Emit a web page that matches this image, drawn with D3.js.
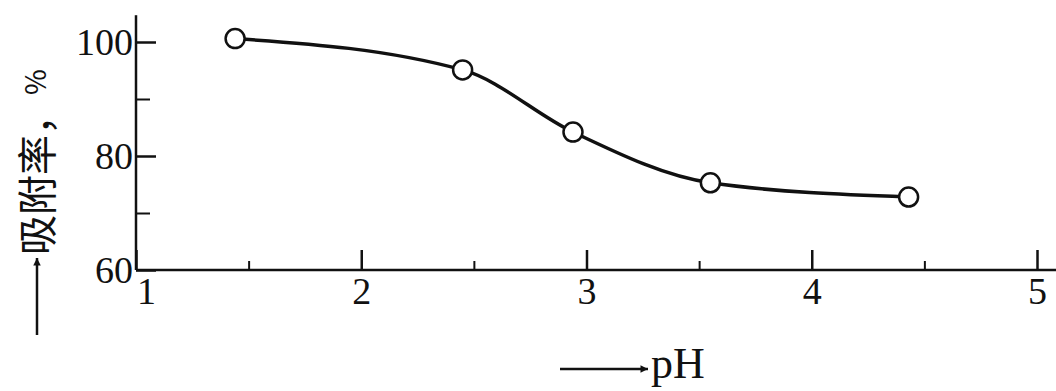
<!DOCTYPE html>
<html>
<head>
<meta charset="utf-8">
<script src="https://cdn.jsdelivr.net/npm/d3@7"></script>
<style>
  body { margin: 0; background: #fff; }
  svg { display: block; }
  .tick text { font-family: "Liberation Serif", "DejaVu Serif", serif; }
</style>
</head>
<body>
<svg id="chart" width="1056" height="391"></svg>
<script>
// pH vs adsorption rate
var phValues = [1.44, 2.45, 2.94, 3.55, 4.43];
var adsorption = [100.6, 95.1, 84.2, 75.3, 72.8];

var xTicks = [1, 2, 3, 4, 5];
var xMinorTicks = [1.5, 2.5, 3.5, 4.5];
var yTicks = [60, 80, 100];
var yMinorTicks = [70, 90];

var ink = "#111";
var svg = d3.select("#chart");

var x = d3.scaleLinear().domain([1, 5]).range([136, 1037]);
var y = d3.scaleLinear().domain([60, 100]).range([270, 42]);

// axis lines (drawn a bit longer than the data range, like the original)
svg.append("line")
    .attr("x1", x(1)).attr("x2", 1056)
    .attr("y1", y(60)).attr("y2", y(60))
    .attr("stroke", ink).attr("stroke-width", 2.5);
svg.append("line")
    .attr("x1", x(1)).attr("x2", x(1))
    .attr("y1", y(60)).attr("y2", y(104.7))
    .attr("stroke", ink).attr("stroke-width", 2.5);

// y axis: ticks point inwards, labels on the left
var yAxis = svg.append("g")
    .attr("transform", "translate(" + x(1) + ",0)")
    .call(d3.axisLeft(y).tickValues(yTicks).tickSizeInner(-20).tickSizeOuter(0).tickPadding(3));
yAxis.select(".domain").remove();
yAxis.selectAll(".tick line").attr("stroke", ink).attr("stroke-width", 2.5);
yAxis.selectAll(".tick text").attr("fill", ink).attr("font-size", 38);

var yMinor = svg.append("g")
    .attr("transform", "translate(" + x(1) + ",0)")
    .call(d3.axisLeft(y).tickValues(yMinorTicks).tickSizeInner(-14).tickSizeOuter(0).tickFormat(""));
yMinor.select(".domain").remove();
yMinor.selectAll(".tick line").attr("stroke", ink).attr("stroke-width", 2);

// x axis: ticks point up, labels below
var xAxis = svg.append("g")
    .attr("transform", "translate(0," + y(60) + ")")
    .call(d3.axisBottom(x).tickValues(xTicks).tickSizeInner(-20).tickSizeOuter(0).tickPadding(7).tickFormat(d3.format("d")));
xAxis.select(".domain").remove();
xAxis.selectAll(".tick line").attr("stroke", ink).attr("stroke-width", 2.5);
xAxis.selectAll(".tick text").attr("fill", ink).attr("font-size", 38)
    .attr("dx", function (d) { return d === 1 ? 10 : 0; });

var xMinor = svg.append("g")
    .attr("transform", "translate(0," + y(60) + ")")
    .call(d3.axisBottom(x).tickValues(xMinorTicks).tickSizeInner(-9).tickSizeOuter(0).tickFormat(""));
xMinor.select(".domain").remove();
xMinor.selectAll(".tick line").attr("stroke", ink).attr("stroke-width", 2);

// curve
var pts = phValues.map(function (d, i) { return [d, adsorption[i]]; });
var line = d3.line()
    .x(function (d) { return x(d[0]); })
    .y(function (d) { return y(d[1]); })
    .curve(d3.curveMonotoneX);

svg.append("path")
    .datum(pts)
    .attr("d", line)
    .attr("fill", "none")
    .attr("stroke", ink)
    .attr("stroke-width", 3.5);

svg.selectAll("circle.pt")
    .data(pts)
    .enter().append("circle")
    .attr("class", "pt")
    .attr("cx", function (d) { return x(d[0]); })
    .attr("cy", function (d) { return y(d[1]); })
    .attr("r", 9.5)
    .attr("fill", "#fff")
    .attr("stroke", ink)
    .attr("stroke-width", 2.5);

// arrow marker for axis titles
svg.append("defs").append("marker")
    .attr("id", "arr")
    .attr("viewBox", "0 0 10 10")
    .attr("refX", 10).attr("refY", 5)
    .attr("markerWidth", 8).attr("markerHeight", 3)
    .attr("orient", "auto")
    .append("path").attr("d", "M0,0L10,5L0,10Z").attr("fill", ink);

// x title
svg.append("line")
    .attr("x1", 560).attr("x2", 648).attr("y1", 369).attr("y2", 369)
    .attr("stroke", ink).attr("stroke-width", 2.5)
    .attr("marker-end", "url(#arr)");
svg.append("text")
    .attr("x", 651).attr("y", 378)
    .attr("font-family", "Liberation Serif, serif")
    .attr("font-size", 44)
    .attr("fill", ink)
    .text("pH");

// y title
svg.append("line")
    .attr("x1", 37).attr("x2", 37).attr("y1", 335).attr("y2", 258)
    .attr("stroke", ink).attr("stroke-width", 2.5)
    .attr("marker-end", "url(#arr)");
var yt = svg.append("text")
    .attr("transform", "translate(52,255) rotate(-90)")
    .attr("font-family", "Noto Sans CJK SC, sans-serif")
    .attr("font-size", 40)
    .attr("fill", ink);
yt.append("tspan").text("吸附率，");
yt.append("tspan").attr("font-size", 28).attr("dy", -6).text("%");
</script>
</body>
</html>
